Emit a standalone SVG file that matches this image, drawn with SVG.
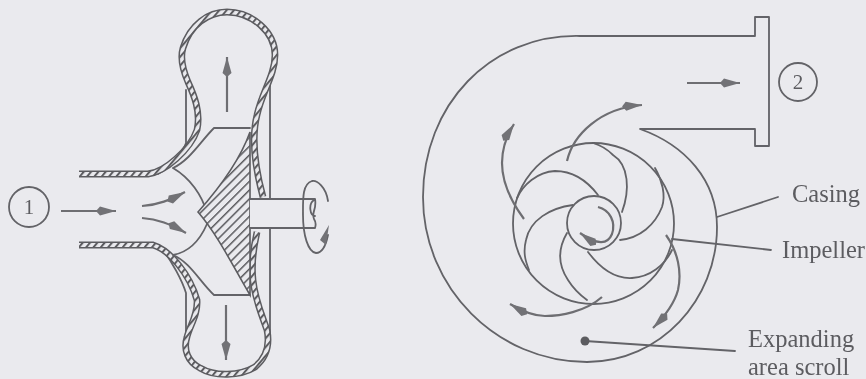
<svg xmlns="http://www.w3.org/2000/svg" width="866" height="379" viewBox="0 0 866 379">
<style>
.l{fill:none;stroke:#636367;stroke-width:1.8;stroke-linecap:round;stroke-linejoin:round}
.f{fill:none;stroke:#6e6e72;stroke-width:2.2}
.w1{fill:none;stroke:#5c5c60;stroke-width:6.8}
.w2{fill:none;stroke:url(#wallhatch);stroke-width:3.8}
text{font-family:"Liberation Serif","Times New Roman",serif;font-size:24.5px;fill:#5c5c60}
.n{font-size:21px;text-anchor:middle}
</style>
<defs>
<filter id="soft" filterUnits="userSpaceOnUse" x="0" y="0" width="866" height="379"><feGaussianBlur stdDeviation="0.45"/></filter>
<marker id="ah" markerUnits="userSpaceOnUse" markerWidth="24" markerHeight="14" refX="20" refY="7" orient="auto"><path d="M0,7 L4,2.5 L20,7 L4,11.5 Z" fill="#727276"/></marker>
<pattern id="hatch" width="6.2" height="6.2" patternUnits="userSpaceOnUse" patternTransform="rotate(45)"><rect width="6.2" height="6.2" fill="#eaeaee"/><rect width="1.5" height="6.2" fill="#5c5c60"/></pattern>
<pattern id="wallhatch" width="5.6" height="5.6" patternUnits="userSpaceOnUse" patternTransform="rotate(40)"><rect width="5.6" height="5.6" fill="#eaeaee"/><rect width="2" height="5.6" fill="#5c5c60"/></pattern>
</defs>
<rect width="866" height="379" fill="#eaeaee"/>
<g filter="url(#soft)">
<g id="housing">
<path class="l" d="M270,78 V333"/>
<path class="l" d="M186,90 V143 C182,155 170,168 158,174"/>
<path class="l" d="M186,333 V293 C182,280 172,262 163,250"/>
<path class="w1" d="M79,174 L148,174 C165,172 190,150 197,130 C201,112 194,95 188,82 C182,68 180,58 183,48 C190,25 208,12 227,12 C252,12 275,32 275,55 C275,75 262,92 257,115 C252,135 253,160 263,197"/>
<path class="w2" d="M79,174 L148,174 C165,172 190,150 197,130 C201,112 194,95 188,82 C182,68 180,58 183,48 C190,25 208,12 227,12 C252,12 275,32 275,55 C275,75 262,92 257,115 C252,135 253,160 263,197"/>
<path class="w1" d="M79,245 L153,245 C170,250 190,275 197,300 C198,315 190,325 187,337 C183,350 188,362 200,368 C215,377 240,376 255,367 C266,358 270,345 267,330 C262,315 255,300 253,280 C251,262 254,245 257,232"/>
<path class="w2" d="M79,245 L153,245 C170,250 190,275 197,300 C198,315 190,325 187,337 C183,350 188,362 200,368 C215,377 240,376 255,367 C266,358 270,345 267,330 C262,315 255,300 253,280 C251,262 254,245 257,232"/>
</g>
<g id="impeller-side">
<path class="l" d="M173,168 C190,178 202,195 207,213 M173,168 C190,160 200,142 214,128 H250"/>
<path class="l" d="M173,255 C190,252 200,240 207,224 M173,255 C190,262 200,282 214,295 H250"/>
<path d="M198,212 C222,185 240,160 250,132 V295 C235,270 218,235 198,212 Z" fill="url(#hatch)" stroke="#5c5c60" stroke-width="1.6"/>
</g>
<g id="shaft">
<path d="M250,199 H315 V228 H250 Z" fill="#eaeaee" stroke="none"/>
<path class="l" d="M250,199 H315 M250,228 H315 M315,199 C317,210 311,212 314,219 C316,222 316,225 315,228 M314,200 C308,204 310,216 315,216"/>
<path class="l" d="M328,201 C326,187 317,180 312,181 C302,184 303,200 303,215 C303,235 308,252 316,253 C322,253 326,245 328,235"/>
<path d="M329,225 L326,245 L320,240 Z" fill="#727276"/>
</g>
<g id="marker-1"><circle class="l" cx="29" cy="207" r="20"/><text class="n" x="29" y="214">1</text></g>
<g id="volute">
<path class="l" d="M755,36 H580 C490,34 423,105 423,197 C423,288 497,362 587,362 C660,362 717,300 717,227 C717,180 685,145 640,129 H755 V146 H769 V17 H755 Z"/>
</g>
<g id="impeller-front">
<circle class="l" cx="593.5" cy="223.5" r="80.5"/>
<circle class="l" cx="594" cy="223" r="27"/>
<path class="l" d="M622,212 C630,190 629,165 613,155 C606,148 600,145 593,143"/>
<path class="l" d="M598,195 C585,178 570,171 555,171 C537,172 523,185 517,198"/>
<path class="l" d="M573,205 C550,208 530,220 526,240 C523,252 525,260 529,270"/>
<path class="l" d="M567,233 C557,250 558,265 568,280 C573,288 580,295 587,300"/>
<path class="l" d="M588,252 C600,268 615,279 632,278 C650,277 665,265 672,250"/>
<path class="l" d="M620,240 C640,238 655,225 662,207 C666,195 662,180 655,168"/>
</g>
<g id="connectors">
<path class="f" marker-end="url(#ah)" d="M61,211 H116"/>
<path class="f" marker-end="url(#ah)" d="M142,206 C158,205 170,200 185,192"/>
<path class="f" marker-end="url(#ah)" d="M142,218 C158,219 170,224 186,233"/>
<path class="f" marker-end="url(#ah)" d="M227,112 V57"/>
<path class="f" marker-end="url(#ah)" d="M226,305 V360"/>
<path class="f" marker-end="url(#ah)" d="M687,83 H740"/>
<path class="f" marker-end="url(#ah)" d="M524,219 C510,200 502,180 502,163 C502,150 507,135 514,124"/>
<path class="f" marker-end="url(#ah)" d="M567,161 C573,135 600,108 642,105"/>
<path class="f" marker-end="url(#ah)" d="M666,235 C678,252 682,272 678,290 C674,305 663,318 653,328"/>
<path class="f" marker-end="url(#ah)" d="M602,297 C585,312 560,316 545,316 C532,316 520,310 510,304"/>
<path class="f" marker-end="url(#ah)" d="M598,207 C610,210 616,222 612,234 C608,244 598,246 580,233"/>
<path class="l" d="M717,217 L778,197"/>
<path class="l" d="M672,239 L771,250"/>
<path class="l" d="M585,341 L735,351"/>
<circle cx="585" cy="341" r="4.5" fill="#5c5c60"/>
</g>
<g id="marker-2"><circle class="l" cx="798" cy="82" r="19"/><text class="n" x="798" y="89">2</text></g>
<g id="label-casing"><text x="792" y="202">Casing</text></g>
<g id="label-impeller"><text x="782" y="258">Impeller</text></g>
<g id="label-scroll"><text x="748" y="347">Expanding</text><text x="748" y="375">area scroll</text></g>
</g>
</svg>
